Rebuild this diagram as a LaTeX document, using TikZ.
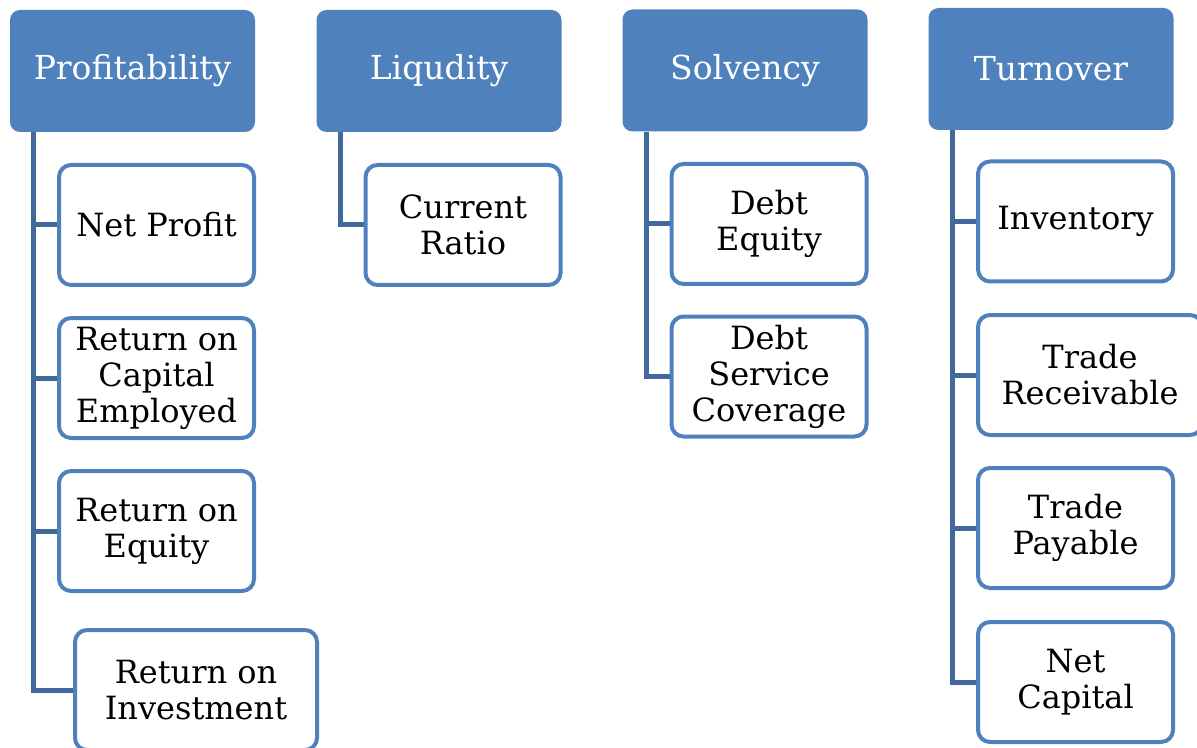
\documentclass[tikz,border=0pt]{standalone}
\usepackage{fontspec}
\setmainfont{DejaVu Serif}
\usetikzlibrary{positioning}
\definecolor{hdrblue}{HTML}{4F81BD}
\definecolor{linkblue}{HTML}{41699C}

\begin{document}
\begin{tikzpicture}[x=0.5pt,y=-0.5pt]
    \tikzset{
      header/.style={
        rectangle,
        rounded corners=5pt,
        minimum width=122.5pt,
        minimum height=61pt,
        inner sep=0pt,
        fill=hdrblue,
        text=white,
        font=\fontsize{16.5}{18}\selectfont
      },
      ratio/.style={
        rectangle,
        rounded corners=6pt,
        minimum width=97.5pt,
        minimum height=60pt,
        inner sep=0pt,
        align=center,
        draw=hdrblue,
        line width=2pt,
        fill=white,
        font=\fontsize{16}{18}\selectfont
      },
      link/.style={draw=linkblue, line width=2.5pt}
    }
    \useasboundingbox (0,0) rectangle (1197,748);

    %Header nodes
    \node[header] at (132.5,71) (pf) {Profitability};
    \node[header] at (439,71) (lq) {Liqudity};
    \node[header] at (745,70.5) (sv) {Solvency};
    \node[header] at (1051,69) (to) {Turnover};

    %Profitability ratios
    \node[ratio] at (156.5,225) (np) {Net Profit};
    \node[ratio] at (156.5,378) (roce) {Return on\\Capital\\Employed};
    \node[ratio] at (156.5,531) (roe) {Return on\\Equity};
    \node[ratio,minimum width=121pt] at (196,690) (roi) {Return on\\Investment};

    %Liquidity ratios
    \node[ratio] at (463,225) (cr) {Current\\Ratio};

    %Solvency ratios
    \node[ratio] at (769,224) (de) {Debt\\Equity};
    \node[ratio] at (769,376.5) (dsc) {Debt\\Service\\Coverage};

    %Turnover ratios
    \node[ratio] at (1075.5,221.5) (inv) {Inventory};
    \node[ratio,minimum width=112pt] at (1090,375) (tr) {Trade\\Receivable};
    \node[ratio] at (1075.5,528) (tp) {Trade\\Payable};
    \node[ratio] at (1075.5,682) (nc) {Net\\Capital};

    %Connectors
    \foreach \child in {np,roce,roe,roi}
      \draw[link] ([xshift=12pt]pf.south west) |- (\child.west);
    \draw[link] ([xshift=12pt]lq.south west) |- (cr.west);
    \foreach \child in {de,dsc}
      \draw[link] ([xshift=12pt]sv.south west) |- (\child.west);
    \foreach \child in {inv,tr,tp,nc}
      \draw[link] ([xshift=12pt]to.south west) |- (\child.west);
  \end{tikzpicture}
\end{document}
